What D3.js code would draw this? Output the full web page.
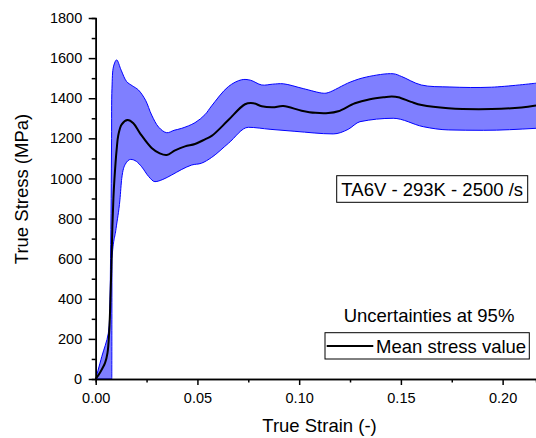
<!DOCTYPE html>
<html>
<head>
<meta charset="utf-8">
<script src="https://cdn.jsdelivr.net/npm/d3@7"></script>
<style>
  body { margin: 0; background: #fff; }
  svg { display: block; font-family: "Liberation Sans", Arial, sans-serif; }
</style>
</head>
<body>
<div id="chart"></div>
<script>
// mean stress curve [true strain, true stress MPa]
const meanCurve = [
  [0, 0], [0.002, 30], [0.0046, 80], [0.0058, 130], [0.0066, 230], [0.0072, 380],
  [0.0077, 560], [0.0082, 760], [0.0087, 900], [0.0092, 995], [0.0103, 1145],
  [0.0111, 1215], [0.0128, 1270], [0.0157, 1291], [0.0185, 1275], [0.0218, 1225],
  [0.0275, 1152], [0.0315, 1125], [0.0349, 1117], [0.039, 1140], [0.0439, 1160],
  [0.0488, 1172], [0.0537, 1195], [0.057, 1212], [0.0652, 1291], [0.0734, 1370],
  [0.0775, 1375], [0.0816, 1360], [0.087, 1355], [0.0922, 1361], [0.1012, 1338],
  [0.108, 1327], [0.1143, 1326], [0.1192, 1335], [0.1274, 1375], [0.1348, 1395],
  [0.142, 1405], [0.1455, 1408], [0.1487, 1405], [0.155, 1382], [0.1602, 1366],
  [0.1733, 1350], [0.1946, 1346], [0.2093, 1354], [0.2164, 1364]
];

// upper bound of the 95% band
const upperBound = [
  [0, 0], [0.003, 112], [0.0062, 228], [0.007, 395], [0.0073, 600], [0.0076, 900],
  [0.0078, 1200], [0.008, 1450], [0.0088, 1560], [0.0103, 1591], [0.0125, 1540],
  [0.0152, 1483], [0.018, 1462], [0.021, 1441], [0.0245, 1390], [0.0275, 1316],
  [0.031, 1255], [0.0349, 1228], [0.0385, 1240], [0.0423, 1250], [0.0488, 1278],
  [0.0537, 1318], [0.057, 1362], [0.0652, 1458], [0.0717, 1492], [0.076, 1490],
  [0.0816, 1466], [0.087, 1470], [0.0922, 1472], [0.102, 1448], [0.1118, 1425],
  [0.1143, 1428], [0.125, 1480], [0.1332, 1506], [0.1462, 1522], [0.1504, 1508],
  [0.1600, 1466], [0.1741, 1456], [0.1946, 1455], [0.2164, 1475]
];

// lower bound of the 95% band
const lowerBound = [
  [0, 0], [0.0079, 0], [0.008, 600], [0.01, 750], [0.0119, 893], [0.0128, 1000],
  [0.0145, 1070], [0.0172, 1095], [0.02, 1085], [0.0226, 1058], [0.026, 1010],
  [0.0291, 984], [0.033, 995], [0.0373, 1017], [0.0423, 1045], [0.0472, 1067],
  [0.052, 1076], [0.057, 1105], [0.0652, 1175], [0.075, 1255], [0.0857, 1245],
  [0.0979, 1235], [0.1168, 1222], [0.1241, 1245], [0.1299, 1283], [0.1462, 1300],
  [0.161, 1258], [0.1733, 1242], [0.1905, 1240], [0.2164, 1250]
];

const xMajorTicks = [0, 0.05, 0.10, 0.15, 0.20];
const xMinorTicks = [0.025, 0.075, 0.125, 0.175];
const yMajorTicks = [0, 200, 400, 600, 800, 1000, 1200, 1400, 1600, 1800];
const yMinorTicks = [100, 300, 500, 700, 900, 1100, 1300, 1500, 1700];

const width = 536, height = 438;

const svg = d3.select("#chart").append("svg")
  .attr("width", width)
  .attr("height", height);

// scales (plot runs off the right edge like the original)
const x = d3.scaleLinear().domain([0, 0.2164]).range([95.7, 536]);
const y = d3.scaleLinear().domain([0, 1800]).range([379, 18]);

// centripetal catmull-rom for the smooth curves
const line = d3.line()
  .x(d => x(d[0]))
  .y(d => y(d[1]))
  .curve(d3.curveCatmullRom.alpha(0.5));

// lower bound has a flat foot + vertical jump, monotone keeps that sharp
const lineLow = d3.line()
  .x(d => x(d[0]))
  .y(d => y(d[1]))
  .curve(d3.curveMonotoneX);

// band = upper path forward, lower path back
const upperPath = line(upperBound);
const lowerPath = lineLow(lowerBound.slice().reverse());
svg.append("path")
  .attr("d", upperPath + lowerPath.replace(/^M/, "L") + "Z")
  .attr("fill", "#7f7fff")
  .attr("stroke", "none");

// band edges
svg.append("path")
  .attr("d", upperPath)
  .attr("fill", "none")
  .attr("stroke", "#0000ff")
  .attr("stroke-width", 1);
svg.append("path")
  .attr("d", lineLow(lowerBound))
  .attr("fill", "none")
  .attr("stroke", "#0000ff")
  .attr("stroke-width", 1);

// mean stress
svg.append("path")
  .attr("d", line(meanCurve))
  .attr("fill", "none")
  .attr("stroke", "#000")
  .attr("stroke-width", 2);

// axes
function styleAxis(g) {
  g.selectAll("path").attr("stroke", "#000").attr("stroke-width", 1.5);
  g.selectAll("line").attr("stroke", "#000").attr("stroke-width", 1.5);
  g.selectAll("text").attr("fill", "#000").style("font-size", "14.5px");
}

svg.append("g")
  .attr("transform", "translate(0,379)")
  .call(d3.axisBottom(x).tickValues(xMinorTicks).tickSize(3.5).tickFormat(""))
  .call(styleAxis);

svg.append("g")
  .attr("transform", "translate(0,379)")
  .call(d3.axisBottom(x).tickValues(xMajorTicks).tickSize(6).tickSizeOuter(0)
    .tickPadding(8).tickFormat(d3.format(".2f")))
  .call(styleAxis);

svg.append("g")
  .attr("transform", "translate(95.7,0)")
  .call(d3.axisLeft(y).tickValues(yMinorTicks).tickSize(4).tickFormat(""))
  .call(styleAxis);

svg.append("g")
  .attr("transform", "translate(95.7,0)")
  .call(d3.axisLeft(y).tickValues(yMajorTicks).tickSize(7).tickSizeOuter(0)
    .tickPadding(6.5).tickFormat(d3.format("d")))
  .call(styleAxis);

// axis titles
svg.append("text")
  .attr("x", 319.5)
  .attr("y", 431.5)
  .attr("text-anchor", "middle")
  .style("font-size", "18.5px")
  .text("True Strain (-)");

svg.append("text")
  .attr("transform", "translate(27.5,189) rotate(-90)")
  .attr("text-anchor", "middle")
  .style("font-size", "18.5px")
  .text("True Stress (MPa)");

// condition label box
svg.append("rect")
  .attr("x", 336.7).attr("y", 175.7)
  .attr("width", 191).attr("height", 26.6)
  .attr("fill", "#fff").attr("stroke", "#000").attr("stroke-width", 1);
svg.append("text")
  .attr("x", 432.2).attr("y", 196)
  .attr("text-anchor", "middle")
  .style("font-size", "18.5px")
  .text("TA6V - 293K - 2500 /s");

// legend
svg.append("text")
  .attr("x", 429).attr("y", 322)
  .attr("text-anchor", "middle")
  .style("font-size", "18.5px")
  .text("Uncertainties at 95%");

svg.append("rect")
  .attr("x", 325).attr("y", 332.7)
  .attr("width", 204.3).attr("height", 26.3)
  .attr("fill", "#fff").attr("stroke", "#000").attr("stroke-width", 1);
svg.append("line")
  .attr("x1", 326.7).attr("x2", 373.3)
  .attr("y1", 346).attr("y2", 346)
  .attr("stroke", "#000").attr("stroke-width", 2);
svg.append("text")
  .attr("x", 376).attr("y", 353)
  .style("font-size", "18.5px")
  .text("Mean stress value");
</script>
</body>
</html>
